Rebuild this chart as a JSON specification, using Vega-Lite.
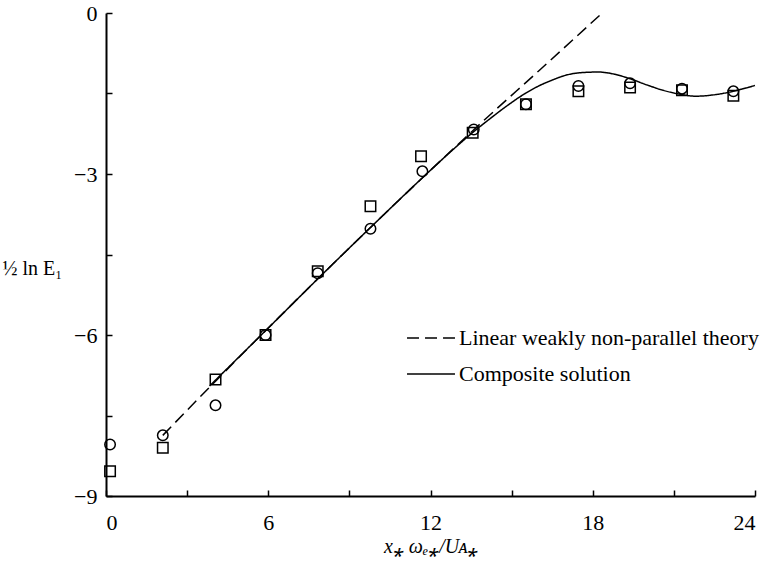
{
  "$schema": "https://vega.github.io/schema/vega-lite/v6.json",
  "autosize": "none",
  "width": 649,
  "height": 483,
  "padding": {"left": 106, "top": 13, "right": 15, "bottom": 69},
  "background": "white",
  "config": {
    "font": "Liberation Serif",
    "view": {"stroke": null},
    "axis": {
      "grid": false,
      "domainColor": "black",
      "domainWidth": 2,
      "tickColor": "black",
      "tickWidth": 1.5,
      "tickSize": -6,
      "labelFont": "Liberation Serif",
      "labelFontSize": 22,
      "labelColor": "black",
      "titleFont": "Liberation Serif",
      "titleColor": "black",
      "titleFontWeight": "normal"
    }
  },
  "datasets": {
    "curves": [
      {"x": 2.1, "y": -7.87, "curve": "Linear weakly non-parallel theory"},
      {"x": 4.05, "y": -6.86, "curve": "Linear weakly non-parallel theory"},
      {"x": 6, "y": -5.87, "curve": "Linear weakly non-parallel theory"},
      {"x": 8, "y": -4.87, "curve": "Linear weakly non-parallel theory"},
      {"x": 10, "y": -3.89, "curve": "Linear weakly non-parallel theory"},
      {"x": 12, "y": -2.93, "curve": "Linear weakly non-parallel theory"},
      {"x": 14, "y": -1.99, "curve": "Linear weakly non-parallel theory"},
      {"x": 16, "y": -1.08, "curve": "Linear weakly non-parallel theory"},
      {"x": 18.35, "y": 0, "curve": "Linear weakly non-parallel theory"},
      {"x": 3.83, "y": -6.95, "curve": "Composite solution"},
      {"x": 6, "y": -5.87, "curve": "Composite solution"},
      {"x": 8, "y": -4.87, "curve": "Composite solution"},
      {"x": 10, "y": -3.89, "curve": "Composite solution"},
      {"x": 12, "y": -2.93, "curve": "Composite solution"},
      {"x": 13.0, "y": -2.47, "curve": "Composite solution"},
      {"x": 13.6, "y": -2.21, "curve": "Composite solution"},
      {"x": 14.2, "y": -1.97, "curve": "Composite solution"},
      {"x": 14.8, "y": -1.74, "curve": "Composite solution"},
      {"x": 15.5, "y": -1.5, "curve": "Composite solution"},
      {"x": 16.0, "y": -1.36, "curve": "Composite solution"},
      {"x": 16.5, "y": -1.25, "curve": "Composite solution"},
      {"x": 17.0, "y": -1.16, "curve": "Composite solution"},
      {"x": 17.6, "y": -1.11, "curve": "Composite solution"},
      {"x": 18.2, "y": -1.1, "curve": "Composite solution"},
      {"x": 18.8, "y": -1.14, "curve": "Composite solution"},
      {"x": 19.35, "y": -1.22, "curve": "Composite solution"},
      {"x": 20.0, "y": -1.34, "curve": "Composite solution"},
      {"x": 20.6, "y": -1.44, "curve": "Composite solution"},
      {"x": 21.2, "y": -1.51, "curve": "Composite solution"},
      {"x": 21.8, "y": -1.55, "curve": "Composite solution"},
      {"x": 22.4, "y": -1.53, "curve": "Composite solution"},
      {"x": 23.0, "y": -1.48, "curve": "Composite solution"},
      {"x": 23.5, "y": -1.42, "curve": "Composite solution"},
      {"x": 24.0, "y": -1.35, "curve": "Composite solution"}
    ],
    "measurements": [
      {"x": 0.15, "y": -8.04, "series": "circle"},
      {"x": 2.1, "y": -7.87, "series": "circle"},
      {"x": 4.05, "y": -7.31, "series": "circle"},
      {"x": 5.9, "y": -6.0, "series": "circle"},
      {"x": 7.83, "y": -4.85, "series": "circle"},
      {"x": 9.78, "y": -4.02, "series": "circle"},
      {"x": 11.7, "y": -2.95, "series": "circle"},
      {"x": 13.6, "y": -2.17, "series": "circle"},
      {"x": 15.53, "y": -1.7, "series": "circle"},
      {"x": 17.47, "y": -1.36, "series": "circle"},
      {"x": 19.38, "y": -1.31, "series": "circle"},
      {"x": 21.3, "y": -1.41, "series": "circle"},
      {"x": 23.2, "y": -1.46, "series": "circle"},
      {"x": 0.15, "y": -8.54, "series": "square"},
      {"x": 2.1, "y": -8.1, "series": "square"},
      {"x": 4.05, "y": -6.83, "series": "square"},
      {"x": 5.9, "y": -6.0, "series": "square"},
      {"x": 7.83, "y": -4.81, "series": "square"},
      {"x": 9.78, "y": -3.6, "series": "square"},
      {"x": 11.65, "y": -2.67, "series": "square"},
      {"x": 13.56, "y": -2.23, "series": "square"},
      {"x": 15.53, "y": -1.7, "series": "square"},
      {"x": 17.47, "y": -1.46, "series": "square"},
      {"x": 19.38, "y": -1.39, "series": "square"},
      {"x": 21.3, "y": -1.44, "series": "square"},
      {"x": 23.2, "y": -1.54, "series": "square"}
    ]
  },
  "encoding": {
    "x": {
      "field": "x",
      "type": "quantitative",
      "scale": {"domain": [0, 24], "nice": false, "zero": false},
      "axis": {
        "values": [0, 3, 6, 9, 12, 15, 18, 21, 24],
        "labelExpr": "datum.value % 6 === 0 ? datum.label : ''",
        "labelPadding": 22,
        "title": "x⁎ ωₑ⁎/Uᴀ⁎",
        "titleFontSize": 20,
        "titleFontStyle": "italic",
        "titlePadding": 3
      }
    },
    "y": {
      "field": "y",
      "type": "quantitative",
      "scale": {"domain": [-9, 0], "nice": false, "zero": false},
      "axis": {
        "values": [-9, -7.5, -6, -4.5, -3, -1.5, 0],
        "labelExpr": "datum.value % 3 === 0 ? datum.label : ''",
        "labelPadding": 15,
        "title": "½ ln E₁",
        "titleAngle": 0,
        "titleAlign": "left",
        "titleBaseline": "middle",
        "titleFontSize": 20,
        "titleX": -104,
        "titleY": 255
      }
    }
  },
  "layer": [
    {
      "data": {"name": "curves"},
      "mark": {"type": "line", "color": "black", "strokeWidth": 1.5, "interpolate": "monotone"},
      "encoding": {
        "strokeDash": {
          "field": "curve",
          "type": "nominal",
          "scale": {
            "domain": ["Linear weakly non-parallel theory", "Composite solution"],
            "range": [[12, 6], [1, 0]]
          },
          "legend": {
            "title": null,
            "orient": "none",
            "legendX": 300,
            "legendY": 300,
            "symbolType": "stroke",
            "symbolSize": 2300,
            "symbolStrokeColor": "black",
            "symbolStrokeWidth": 1.5,
            "labelFont": "Liberation Serif",
            "labelFontSize": 22,
            "labelColor": "black",
            "labelOffset": 3,
            "labelLimit": 420,
            "rowPadding": -1
          }
        }
      }
    },
    {
      "data": {"name": "measurements"},
      "mark": {"type": "point", "filled": false, "color": "black", "strokeWidth": 1.5, "size": 110, "opacity": 1},
      "encoding": {
        "shape": {
          "field": "series",
          "type": "nominal",
          "scale": {"domain": ["circle", "square"], "range": ["circle", "square"]},
          "legend": null
        }
      }
    }
  ]
}
